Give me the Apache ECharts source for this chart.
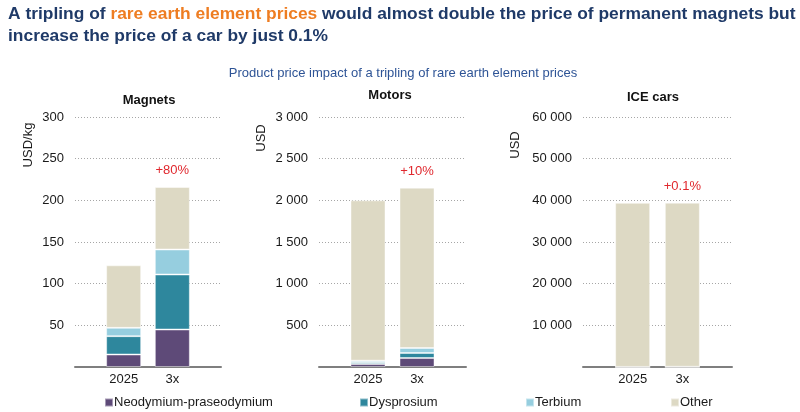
<!DOCTYPE html>
<html>
<head>
<meta charset="utf-8">
<script src="https://cdn.jsdelivr.net/npm/echarts@6/dist/echarts.min.js"></script>
<style>
  html, body { margin: 0; padding: 0; background: #fff; }
  #chart { width: 800px; height: 412px; }
</style>
</head>
<body>
<div id="chart"></div>
<script>
// values
const categories = ['2025', '3x']
const seriesNames = ['Neodymium-praseodymium', 'Dysprosium', 'Terbium', 'Other']

const magnetsNdPr = [15, 45]
const magnetsDy = [22, 66]
const magnetsTb = [10, 30]
const magnetsOther = [75, 75]

const motorsNdPr = [36, 108]
const motorsDy = [20, 60]
const motorsTb = [20, 60]
const motorsOther = [1924, 1924]

const carsNdPr = [12, 36]
const carsDy = [4, 12]
const carsTb = [4, 12]
const carsOther = [39380, 39380]

const panelTitles = ['Magnets', 'Motors', 'ICE cars']
const unitNames = ['USD/kg', 'USD', 'USD']
const changeLabels = ['+80%', '+10%', '+0.1%']
const yMax = [300, 3000, 60000]
const yStep = [50, 500, 10000]

const colors = ['#5e4a78', '#2e879d', '#96cedf', '#ddd9c4']
const font = 'Liberation Sans, Arial, sans-serif'

const panels = [
  [magnetsNdPr, magnetsDy, magnetsTb, magnetsOther],
  [motorsNdPr, motorsDy, motorsTb, motorsOther],
  [carsNdPr, carsDy, carsTb, carsOther]
]

// grid boxes: left, width
const gridBox = [
  { left: 75, width: 146 },
  { left: 319, width: 147 },
  { left: 583, width: 149 }
]

// empty slots on both sides so bars sit at 1/3 and 2/3 of the plot
const axisData = [''].concat(categories, [''])
const pad = arr => ['-'].concat(arr, ['-'])

const fmt = v => String(v).replace(/\B(?=(\d{3})+(?!\d))/g, ' ')

const grid = gridBox.map(b => ({ left: b.left, width: b.width, top: 117, height: 250 }))

const xAxis = gridBox.map((b, i) => ({
  type: 'category',
  gridIndex: i,
  data: axisData,
  boundaryGap: false,
  axisTick: { show: false },
  axisLine: { lineStyle: { color: '#7f7f7f', width: 2 } },
  axisLabel: { color: '#1a1a1a', fontSize: 13, fontFamily: font, margin: 6, interval: 0 },
  splitLine: { show: false }
}))

const yAxis = gridBox.map((b, i) => ({
  type: 'value',
  gridIndex: i,
  min: 0,
  max: yMax[i],
  interval: yStep[i],
  axisLine: { show: false },
  axisTick: { show: false },
  axisLabel: {
    color: '#1a1a1a',
    fontSize: 13,
    fontFamily: font,
    margin: 11,
    showMinLabel: false,
    formatter: v => fmt(v)
  },
  splitLine: { lineStyle: { color: '#a6a6a6', type: [1, 2], width: 1 } }
}))

const series = []
panels.forEach((p, i) => {
  p.forEach((vals, k) => {
    const s = {
      name: seriesNames[k],
      type: 'bar',
      stack: 'panel' + i,
      xAxisIndex: i,
      yAxisIndex: i,
      barWidth: 35,
      itemStyle: { color: colors[k], borderColor: 'rgba(255,255,255,0.45)', borderWidth: 1 },
      data: pad(vals)
    }
    if (k === 3) {
      s.label = {
        show: true,
        position: 'top',
        distance: 10,
        color: '#e0282e',
        fontSize: 13,
        fontFamily: font,
        formatter: d => (d.dataIndex === 2 ? changeLabels[i] : '')
      }
    }
    series.push(s)
  })
})

const legendLeft = [99, 354, 520, 665]
const legend = seriesNames.map((n, k) => ({
  data: [n],
  left: legendLeft[k],
  top: 391,
  icon: 'rect',
  itemWidth: 8,
  itemHeight: 8,
  selectedMode: false,
  textStyle: { color: '#1a1a1a', fontSize: 13, fontFamily: font, padding: [0, 0, 0, -4] }
}))

const panelTitlePos = [[149, 100], [390, 95], [653, 97]]
const unitPos = [[28, 145], [261, 138], [515, 145]]

const graphic = [
  {
    type: 'text',
    x: 8,
    y: 3,
    style: {
      text: '{n|A tripling of }{o|rare earth element prices}{n| would almost double the price of permanent magnets but}\n{n|increase the price of a car by just 0.1%}',
      rich: {
        n: { fontSize: 17.4, fontWeight: 'bold', fontFamily: font, fill: '#1f3a68', lineHeight: 22 },
        o: { fontSize: 17.4, fontWeight: 'bold', fontFamily: font, fill: '#ee7d22', lineHeight: 22 }
      }
    }
  },
  {
    type: 'text',
    x: 403,
    y: 73,
    style: {
      text: 'Product price impact of a tripling of rare earth element prices',
      fontSize: 13,
      fontFamily: font,
      fill: '#2e5496',
      align: 'center',
      verticalAlign: 'middle'
    }
  }
]
panelTitles.forEach((t, i) => {
  graphic.push({
    type: 'text',
    x: panelTitlePos[i][0],
    y: panelTitlePos[i][1],
    style: {
      text: t,
      fontSize: 13,
      fontWeight: 'bold',
      fontFamily: font,
      fill: '#111',
      align: 'center',
      verticalAlign: 'middle'
    }
  })
  graphic.push({
    type: 'text',
    x: unitPos[i][0],
    y: unitPos[i][1],
    rotation: Math.PI / 2,
    style: {
      text: unitNames[i],
      fontSize: 13,
      fontFamily: font,
      fill: '#1a1a1a',
      align: 'center',
      verticalAlign: 'middle'
    }
  })
})

const chart = echarts.init(document.getElementById('chart'))
chart.setOption({
  animation: false,
  backgroundColor: '#ffffff',
  grid,
  xAxis,
  yAxis,
  legend,
  graphic,
  series
})
</script>
</body>
</html>
